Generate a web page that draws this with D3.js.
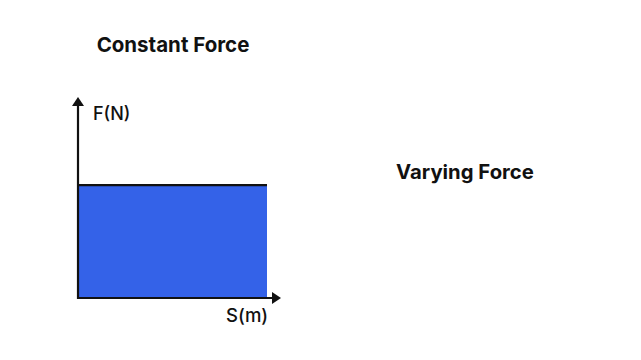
<!DOCTYPE html>
<html><head><meta charset="utf-8">
<script src="https://cdn.jsdelivr.net/npm/d3@7"></script>
<style>body{margin:0;background:#fff}svg{display:block}</style>
</head><body>
<script>
const titles = ["Constant Force", "Varying Force"];
const axisLabels = ["F(N)", "S(m)"];
const displacement = [0, 10];
const force = [6, 6];

const W = 641, H = 360;
const svg = d3.select("body").append("svg").attr("width", W).attr("height", H);
const x = d3.scaleLinear().domain([0, 10]).range([78, 267]);
const y = d3.scaleLinear().domain([0, 10]).range([298, 110]);

const pts = displacement.map((d, i) => [d, force[i]]);
const area = d3.area().x(d => x(d[0])).y0(y(0)).y1(d => y(d[1]));
svg.append("path").datum(pts).attr("d", area).attr("fill", "#3462E8");
svg.append("path").datum(pts).attr("d", d3.line().x(d => x(d[0])).y(d => y(d[1])))
  .attr("stroke", "#111").attr("stroke-width", 2.2).attr("fill", "none");

// axes
svg.append("line").attr("x1", x(0)).attr("x2", x(0)).attr("y1", y(0) + 1).attr("y2", 104)
  .attr("stroke", "#111").attr("stroke-width", 2.2);
svg.append("line").attr("x1", x(0) - 1).attr("x2", 274).attr("y1", y(0)).attr("y2", y(0))
  .attr("stroke", "#111").attr("stroke-width", 2.2);
svg.append("path").attr("d", `M${x(0)},97 L${x(0)-6},106 L${x(0)+6},106 Z`).attr("fill", "#111");
svg.append("path").attr("d", `M281,${y(0)} L272,${y(0)-6} L272,${y(0)+6} Z`).attr("fill", "#111");

const font = "Inter, 'Open Sans', sans-serif";
svg.append("text").attr("x", 173).attr("y", 52).attr("text-anchor", "middle")
  .attr("font-family", font).attr("font-weight", 700).attr("font-size", 20.5).attr("fill", "#111").text(titles[0]);
svg.append("text").attr("x", 465).attr("y", 179).attr("text-anchor", "middle")
  .attr("font-family", font).attr("font-weight", 700).attr("font-size", 20.3).attr("fill", "#111").text(titles[1]);
svg.append("text").attr("x", 93).attr("y", 120)
  .attr("font-family", font).attr("font-weight", 500).attr("font-size", 18).attr("fill", "#111").text(axisLabels[0]);
svg.append("text").attr("x", 226).attr("y", 322)
  .attr("font-family", font).attr("font-weight", 500).attr("font-size", 18.5).attr("fill", "#111").text(axisLabels[1]);
</script>
</body></html>
